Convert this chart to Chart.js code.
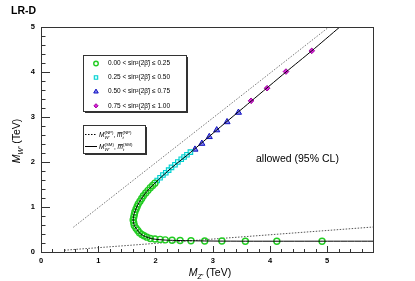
<!DOCTYPE html>
<html>
<head>
<meta charset="utf-8">
<script src="https://cdn.jsdelivr.net/npm/chart.js@4.4.1/dist/chart.umd.min.js"></script>
<style>
html,body{margin:0;padding:0;background:#fff;}
#c{display:block;}
</style>
</head>
<body>
<canvas id="c" width="415" height="281"></canvas>
<script>
// ---------- values (TeV) ----------
const xTicks = [0,1,2,3,4,5];
const yTicks = [0,1,2,3,4,5];

// 0.00 < sin^2(2b) <= 0.25
const bin1 = [
  [1.99,1.53],[1.95,1.48],[1.91,1.43],[1.87,1.37],[1.83,1.31],[1.79,1.25],
  [1.76,1.19],[1.73,1.13],[1.70,1.07],[1.68,1.01],[1.66,0.95],[1.64,0.89],
  [1.63,0.83],[1.62,0.77],[1.61,0.71],[1.62,0.65],[1.63,0.59],[1.66,0.53],
  [1.69,0.48],[1.72,0.43],[1.76,0.39],[1.80,0.36],[1.85,0.33],
  [1.91,0.30],[1.99,0.29],[2.08,0.28],[2.17,0.27],[2.29,0.26],[2.43,0.255],
  [2.62,0.25],[2.86,0.245],[3.16,0.245],[3.57,0.24],[4.12,0.24],[4.91,0.24]
];
// 0.25 < sin^2(2b) <= 0.50
const bin2 = [
  [2.03,1.59],[2.08,1.65],[2.13,1.71],[2.18,1.76],[2.23,1.82],[2.28,1.88],
  [2.34,1.94],[2.39,2.00],[2.45,2.06],[2.50,2.11],[2.55,2.16],[2.61,2.22]
];
// 0.50 < sin^2(2b) <= 0.75
const bin3 = [
  [2.69,2.28],[2.81,2.41],[2.94,2.56],[3.07,2.71],[3.25,2.89],[3.45,3.10]
];
// 0.75 < sin^2(2b) <= 1.00
const bin4 = [
  [3.67,3.36],[3.95,3.64],[4.28,4.01],[4.73,4.47]
];
// M_W'(SM) curve
const smCurve = [
  [5.22,5.00],[4.73,4.47],[4.28,4.00],[3.67,3.35],[3.07,2.71],[2.61,2.21],
  [2.28,1.87],[1.99,1.53],[1.82,1.30],[1.70,1.07],[1.63,0.86],[1.61,0.71],
  [1.63,0.59],[1.66,0.53],[1.74,0.40],[1.85,0.33],[1.96,0.29],[2.17,0.265],
  [2.43,0.255],[2.86,0.245],[3.57,0.24],[4.91,0.24],[5.80,0.24]
];
// M_W'(NP) curves
const npUpper = [[0.565,0.55],[5.03,5.00]];
const npLower = [[0.41,0.04],[5.80,0.555]];

const binLabels = [
  "0.00 < sin\u00b2(2\u03b2\u0303) \u2264 0.25",
  "0.25 < sin\u00b2(2\u03b2\u0303) \u2264 0.50",
  "0.50 < sin\u00b2(2\u03b2\u0303) \u2264 0.75",
  "0.75 < sin\u00b2(2\u03b2\u0303) \u2264 1.00"
];

const FONT = "'Liberation Sans', Arial, sans-serif";
const pts = a => a.map(p => ({x:p[0], y:p[1]}));

const markerStyles = [
  {pointStyle:'circle',  radius:3.0, borderWidth:1.4, borderColor:'#22cc22', backgroundColor:'rgba(0,0,0,0)'},
  {pointStyle:'rect',    radius:3.2, borderWidth:1.1, borderColor:'#00d0d0', backgroundColor:'rgba(160,255,255,0.5)'},
  {pointStyle:'triangle',radius:3.5, borderWidth:1,   borderColor:'#1010c0', backgroundColor:'rgba(90,90,235,0.75)'},
  {pointStyle:'rectRot', radius:2.8, borderWidth:1,   borderColor:'#990099', backgroundColor:'#dd22dd'}
];

const binSets = [bin1, bin2, bin3, bin4].map((b,i) => ({
  data: pts(b),
  showLine: false,
  order: 1,
  pointStyle: markerStyles[i].pointStyle,
  pointRadius: markerStyles[i].radius,
  pointBorderWidth: markerStyles[i].borderWidth,
  pointBorderColor: markerStyles[i].borderColor,
  pointBackgroundColor: markerStyles[i].backgroundColor
}));

// ---------- ROOT-like frame, ticks, texts ----------
function rich(ctx, parts, x, y, measureOnly){
  let cx = x;
  parts.forEach(p => {
    ctx.font = p.font;
    if(!measureOnly) ctx.fillText(p.t, cx, y + (p.dy || 0));
    cx += ctx.measureText(p.t).width;
  });
  return cx - x;
}

function mSymbol(ctx, x, y, sub, size){
  // M_W'^(sub), m_t^(sub) label used in legend
  const f = "italic " + size + "px " + FONT;
  const fs = (size*0.68).toFixed(1) + "px " + FONT;
  const fsi = "italic " + fs;
  let cx = x;
  ctx.font = f; ctx.fillText("M", cx, y); cx += ctx.measureText("M").width;
  ctx.font = fsi; ctx.fillText("W'", cx, y + size*0.3);
  let w1 = ctx.measureText("W'").width;
  ctx.font = fs; ctx.fillText("(" + sub + ")", cx, y - size*0.45);
  cx += Math.max(w1, ctx.measureText("(" + sub + ")").width);
  ctx.font = size + "px " + FONT; ctx.fillText(", ", cx, y); cx += ctx.measureText(", ").width;
  ctx.font = f; ctx.fillText("m", cx, y);
  const mw = ctx.measureText("m").width;
  ctx.fillRect(cx + 0.5, y - size*0.72, mw - 0.5, 0.7);
  cx += mw;
  ctx.font = fsi; ctx.fillText("t", cx, y + size*0.3);
  ctx.font = fs; ctx.fillText("(" + sub + ")", cx, y - size*0.45);
}

function legendBox(ctx, x1, y1, x2, y2){
  ctx.fillStyle = "#fff";
  ctx.fillRect(x1, y1, x2-x1, y2-y1);
  ctx.strokeStyle = "#333";
  ctx.lineWidth = 1;
  ctx.strokeRect(x1+0.5, y1+0.5, x2-x1, y2-y1);
  ctx.fillStyle = "#333";
  ctx.fillRect(x2+0.5, y1+2, 1.5, y2-y1);
  ctx.fillRect(x1+2, y2+0.5, x2-x1, 1.5);
}

const rootFrame = {
  id: 'rootFrame',
  afterDatasetsDraw(chart){
    const ctx = chart.ctx;
    const a = chart.chartArea;
    const xs = chart.scales.x, ys = chart.scales.y;
    ctx.save();

    // frame
    ctx.strokeStyle = "#333";
    ctx.lineWidth = 1;
    ctx.strokeRect(Math.round(a.left)+0.5, Math.round(a.top)+0.5,
                   Math.round(a.right-a.left), Math.round(a.bottom-a.top));

    // ticks (inside the frame)
    ctx.beginPath();
    for(let i=0;i<=29;i++){
      const px = Math.round(xs.getPixelForValue(i*0.2)) + 0.5;
      const len = (i%5===0) ? 6 : 3;
      ctx.moveTo(px, a.bottom); ctx.lineTo(px, a.bottom - len);
    }
    for(let i=0;i<=25;i++){
      const py = Math.round(ys.getPixelForValue(i*0.2)) + 0.5;
      const len = (i%5===0) ? 9 : 4.5;
      ctx.moveTo(a.left, py); ctx.lineTo(a.left + len, py);
    }
    ctx.stroke();

    // tick labels
    ctx.fillStyle = "#000";
    ctx.font = "bold 7.5px " + FONT;
    ctx.textAlign = "center"; ctx.textBaseline = "middle";
    xTicks.forEach(v => ctx.fillText(String(v), xs.getPixelForValue(v), a.bottom + 9));
    ctx.textAlign = "right";
    yTicks.forEach(v => ctx.fillText(String(v), a.left - 6, ys.getPixelForValue(v)));

    // axis titles
    ctx.textAlign = "left"; ctx.textBaseline = "alphabetic";
    const xt = [
      {t:"M", font:"italic 10.5px " + FONT},
      {t:"Z'", font:"italic 7px " + FONT, dy:3},
      {t:" (TeV)", font:"10.5px " + FONT}
    ];
    const xw = rich(ctx, xt, 0, 0, true);
    rich(ctx, xt, (a.left+a.right)/2 - xw/2 + 3, 276);

    ctx.save();
    ctx.translate(20, 141);
    ctx.rotate(-Math.PI/2);
    const yt = [
      {t:"M", font:"italic 10.5px " + FONT},
      {t:"W'", font:"italic 7px " + FONT, dy:3},
      {t:" (TeV)", font:"10.5px " + FONT}
    ];
    const yw = rich(ctx, yt, 0, 0, true);
    rich(ctx, yt, -yw/2, 0);
    ctx.restore();

    // header
    ctx.font = "bold 10.5px " + FONT;
    ctx.fillText("LR-D", 11, 14);

    // region text
    ctx.font = "10.5px " + FONT;
    ctx.fillText("allowed (95% CL)", 256, 162);

    // legend 1: sin^2(2beta) bins
    legendBox(ctx, 83, 55, 186, 111);
    ctx.textBaseline = "middle";
    const rows = [63.5, 77.5, 91.7, 105.8];
    rows.forEach((ry,i) => {
      const s = markerStyles[i];
      ctx.strokeStyle = s.borderColor;
      ctx.fillStyle = s.backgroundColor;
      ctx.lineWidth = s.borderWidth;
      Chart.helpers.drawPoint(ctx, {pointStyle:s.pointStyle, radius:s.radius*0.75, rotation:0, borderWidth:s.borderWidth}, 96, ry);
      ctx.fillStyle = "#000";
      ctx.font = "6.5px " + FONT;
      ctx.fillText(binLabels[i], 108, ry);
    });

    // legend 2: NP / SM lines
    legendBox(ctx, 83, 125, 145, 153);
    ctx.strokeStyle = "#000"; ctx.lineWidth = 1;
    ctx.setLineDash([1.5,1.5]);
    ctx.beginPath(); ctx.moveTo(85, 134.5); ctx.lineTo(97, 134.5); ctx.stroke();
    ctx.setLineDash([]);
    ctx.beginPath(); ctx.moveTo(85, 146.5); ctx.lineTo(97, 146.5); ctx.stroke();
    ctx.fillStyle = "#000";
    ctx.textBaseline = "alphabetic";
    mSymbol(ctx, 99, 137, "NP", 6.5);
    mSymbol(ctx, 99, 149, "SM", 6.5);

    ctx.restore();
  }
};

new Chart(document.getElementById("c"), {
  type: "scatter",
  data: {
    datasets: [
      {
        data: pts(smCurve),
        showLine: true,
        order: 0,
        borderColor: "#000",
        borderWidth: 1,
        pointRadius: 0,
        tension: 0.25
      },
      ...binSets,
      {
        data: pts(npUpper),
        showLine: true,
        order: 2,
        borderColor: "#777",
        borderWidth: 1,
        borderDash: [1.5,1.5],
        pointRadius: 0
      },
      {
        data: pts(npLower),
        showLine: true,
        order: 2,
        borderColor: "#555",
        borderWidth: 1,
        borderDash: [1.5,1.5],
        pointRadius: 0
      }
    ]
  },
  options: {
    responsive: false,
    animation: false,
    devicePixelRatio: 1,
    layout: { padding: { left: 41, right: 42, top: 27, bottom: 29 } },
    plugins: { legend: { display: false }, tooltip: { enabled: false } },
    scales: {
      x: { type: "linear", min: 0, max: 5.8, display: false },
      y: { type: "linear", min: 0, max: 5, display: false }
    }
  },
  plugins: [rootFrame]
});
</script>
</body>
</html>
